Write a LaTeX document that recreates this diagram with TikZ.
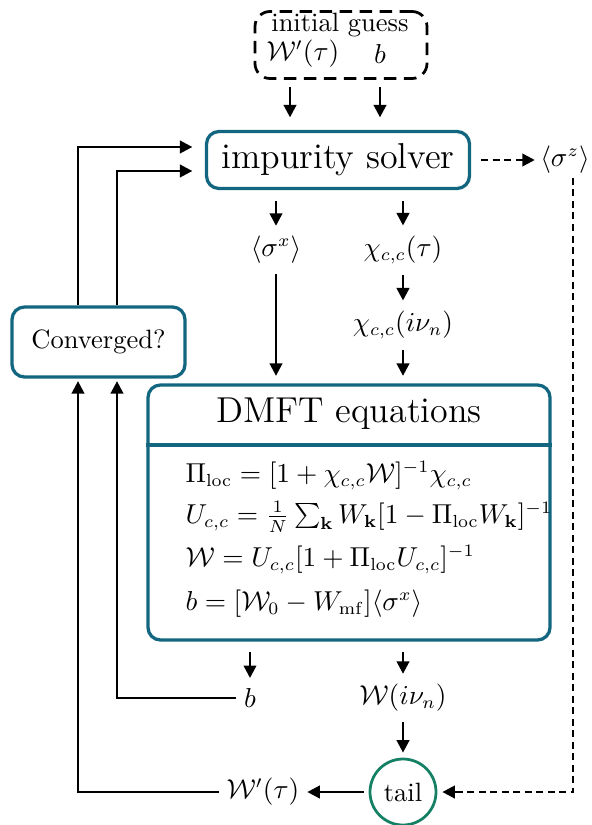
\documentclass[tikz,border=0pt]{standalone}
\usetikzlibrary{arrows.meta,calc}
\definecolor{boxblue}{RGB}{18,102,128}
\definecolor{tailgreen}{RGB}{20,128,100}
\begin{document}
\begin{tikzpicture}[x=0.4pt,y=-0.4pt,
 font=\fontsize{10.6}{12.7}\selectfont,
 arr/.style={-{Triangle[length=5pt,width=5pt]}, line width=1pt},
 dsh/.style={line width=1pt, dash pattern=on 2.8pt off 1.8pt},
 bbox/.style={draw=boxblue, line width=1.3pt, rounded corners=5pt},
 lbl/.style={inner sep=1pt},
 eqn/.style={anchor=base west, inner sep=0pt}]
\useasboundingbox (0,0) rectangle (592,825);
% initial guess
\node[draw, line width=1.1pt, dash pattern=on 5pt off 3pt, rounded corners=6pt,
  minimum width=172*0.4pt, minimum height=67*0.4pt] (ig) at (341,45) {};
\node[lbl] (igt) at (340,25) {initial guess};
\node[lbl] (igw) at (303,54) {$\mathcal{W}'(\tau)$};
\node[lbl] (igb) at (380,54) {$b$};
% impurity solver
\node[bbox, minimum width=263*0.4pt, minimum height=57*0.4pt, font=\Large] (solver) at (338,160) {impurity solver};
\coordinate (c290) at (290,0);
\coordinate (c380) at (380,0);
\draw[arr, shorten <=3pt, shorten >=5pt] (ig.south -| c290) -- (solver.north -| c290);
\draw[arr, shorten <=3pt, shorten >=5pt] (ig.south -| c380) -- (solver.north -| c380);
% sigma z
\node[lbl] (sz) at (565,160) {$\langle\sigma^z\rangle$};
\draw[arr, dsh, shorten <=4pt, shorten >=1pt] (solver.east) -- (sz.west);
% outputs of solver
\node[lbl] (sx) at (276,250) {$\langle\sigma^x\rangle$};
\node[lbl] (chit) at (403,250) {$\chi_{c,c}(\tau)$};
\node[lbl] (chin) at (403,325) {$\chi_{c,c}(i\nu_n)$};
\draw[arr, shorten <=4.5pt, shorten >=3pt] (solver.south -| sx) -- (sx.north);
\draw[arr, shorten <=4.5pt, shorten >=3pt] (solver.south -| chit) -- (chit.north);
\draw[arr, shorten <=3pt, shorten >=3pt] (chit.south) -- (chin.north);
% DMFT box
\node[bbox, minimum width=402*0.4pt, minimum height=255*0.4pt] (dmft) at (349,512.5) {};
\draw[draw=boxblue, line width=1.3pt] (dmft.west |- 0,445) coordinate (dl) -- (dmft.east |- dl);
\node[font=\Large, lbl] (title) at (349,414) {DMFT equations};
\node[eqn] (e1) at (185,482) {$\Pi_{\mathrm{loc}} = [1+\chi_{c,c}\mathcal{W}]^{-1}\chi_{c,c}$};
\node[eqn] (e2) at (185,523) {$U_{c,c} = \frac{1}{N}\sum_{\mathbf{k}} W_{\mathbf{k}}[1-\Pi_{\mathrm{loc}}W_{\mathbf{k}}]^{-1}$};
\node[eqn] (e3) at (185,566) {$\mathcal{W} = U_{c,c}[1+\Pi_{\mathrm{loc}}U_{c,c}]^{-1}$};
\node[eqn] (e4) at (185,610) {$b = [\mathcal{W}_0 - W_{\mathrm{mf}}]\langle\sigma^x\rangle$};
\draw[arr, shorten <=3pt, shorten >=3pt] (sx.south) -- (dmft.north -| sx);
\draw[arr, shorten <=3pt, shorten >=3pt] (chin.south) -- (dmft.north -| chin);
% outputs of DMFT
\node[lbl] (bo) at (250,698) {$b$};
\node[lbl] (wn) at (403,698) {$\mathcal{W}(i\nu_n)$};
\draw[arr, shorten <=4pt, shorten >=3pt] (dmft.south -| bo) -- (bo.north);
\draw[arr, shorten <=4pt, shorten >=3pt] (dmft.south -| wn) -- (wn.north);
% tail
\node[circle, draw=tailgreen, line width=1.1pt, minimum size=66*0.4pt, inner sep=0pt] (tail) at (403,792) {tail};
\draw[arr, shorten <=3pt, shorten >=2pt] (wn.south) -- (tail.north);
\node[lbl] (wt) at (263,792) {$\mathcal{W}'(\tau)$};
\draw[arr, shorten <=2pt, shorten >=2pt] (tail.west) -- (wt.east);
\coordinate (szc) at (573,178);
\draw[arr, dsh, shorten >=2pt] (szc) |- (tail.east);
% converged
\node[bbox, minimum width=173*0.4pt, minimum height=70*0.4pt] (conv) at (98.5,342) {Converged?};
\coordinate (c78) at (78,147);
\coordinate (c117) at (117,171);
\draw[arr, shorten >=5pt] (conv.north -| c78) |- (solver.west |- c78);
\draw[arr, shorten >=5pt] (conv.north -| c117) |- (solver.west |- c117);
\draw[arr, shorten <=2pt, shorten >=1pt] (wt.west) -| (conv.south -| c78);
\draw[arr, shorten <=2pt, shorten >=1pt] (bo.west) -| (conv.south -| c117);
\end{tikzpicture}
\end{document}
